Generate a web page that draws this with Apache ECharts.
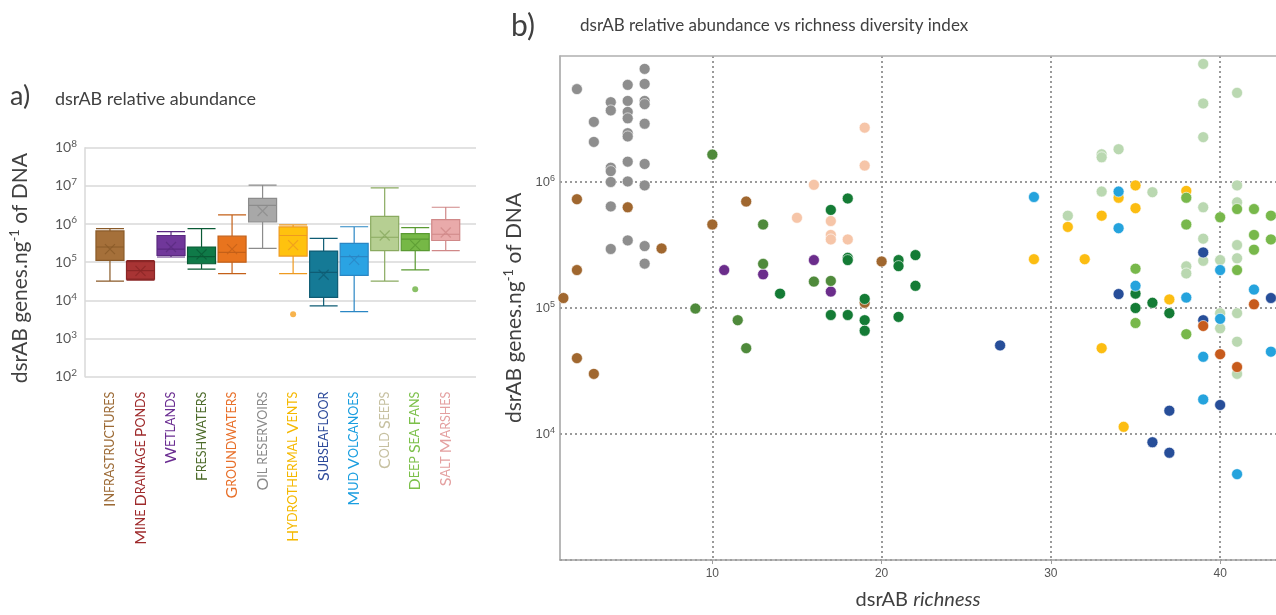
<!DOCTYPE html>
<html><head><meta charset="utf-8">
<script src="https://cdn.jsdelivr.net/npm/echarts@6/dist/echarts.min.js"></script>
<style>html,body{margin:0;padding:0;background:#fff}#c{width:1276px;height:615px}</style>
</head><body><div id="c"></div><script>
// ---------- Panel a: box plot data ----------
const categories = ['Infrastructures','Mine Drainage Ponds','Wetlands','Freshwaters','Groundwaters','Oil reservoirs','Hydrothermal Vents','Subseafloor','Mud Volcanoes','Cold Seeps','Deep Sea Fans','Salt Marshes'];
const boxMin    = [3.2e4, 3.4e4, 1.37e5, 6.6e4, 5.0e4, 2.3e5, 5.0e4, 7.2e3, 5.1e3, 3.2e4, 6.3e4, 2.0e5];
const boxQ1     = [1.12e5, 3.6e4, 1.5e5, 9.1e4, 1.0e5, 1.13e6, 1.45e5, 1.2e4, 4.5e4, 2.0e5, 2.0e5, 3.7e5];
const boxMedian = [2.5e5, 6.0e4, 2.2e5, 1.4e5, 1.8e5, 3.1e6, 5.0e5, 5.4e4, 1.4e5, 4.5e5, 4.0e5, 5.4e5];
const boxQ3     = [6.6e5, 1.03e5, 5.0e5, 2.5e5, 4.8e5, 4.7e6, 8.4e5, 1.96e5, 3.1e5, 1.58e6, 5.6e5, 1.3e6];
const boxMax    = [7.6e5, 1.1e5, 6.3e5, 7.6e5, 1.74e6, 1.05e7, 9.5e5, 4.2e5, 8.5e5, 8.9e6, 8.1e5, 2.75e6];
const boxMean   = [2.2e5, 5.9e4, 2.5e5, 1.6e5, 2.2e5, 2.2e6, 2.8e5, 4.7e4, 1.15e5, 5.0e5, 2.8e5, 6.0e5];
const boxOutliers = [[6, 4.3e3], [10, 1.95e4]];
const labelColors = ['#9c6a35','#9e2a2b','#6a2c91','#4d6b2a','#e8702a','#8a8a8a','#f5b800','#2e4b9b','#1a9ee0','#c6c0a0','#7cc04a','#e4a0a0'];
const boxFill     = ['#a5703a','#a83434','#70379a','#0f7a48','#e8741e','#a8a8a8','#ffc20e','#157a96','#2aa3e3','#b6cf92','#76b846','#e9aaaa'];
const boxBorder   = ['#8a5a28','#8a2626','#5a2a80','#0a5a35','#c46018','#8c8c8c','#ee9a20','#0f5c74','#2a86c4','#8aaa60','#5a9a32','#d08888'];
const outlierColors = ['#f5a020','#6cb040'];

// ---------- Panel b: scatter data [richness, abundance] ----------
const oilReservoirsPts = [[2,5.46e6],[3,3.0e6],[3,2.08e6],[4,4.3e6],[4,3.7e6],[4,1.3e6],[4,1.22e6],[4,1.0e6],[4,6.4e5],[4,2.94e5],[5,5.9e6],[5,4.4e6],[5,3.6e6],[5,3.2e6],[5,2.44e6],[5,2.3e6],[5,1.45e6],[5,1.01e6],[5,3.44e5],[6,7.9e6],[6,6.0e6],[6,4.4e6],[6,4.15e6],[6,2.9e6],[6,1.39e6],[6,9.4e5],[6,3.1e5],[6,2.25e5]];
const infrastructuresPts = [[1.2,1.2e5],[2,7.3e5],[2,2.0e5],[2,4.0e4],[3,3.0e4],[5,6.3e5],[7,2.97e5],[10,4.6e5],[12,7.0e5],[19,1.1e5],[20,2.34e5]];
const wetlandsPts = [[10.7,2.0e5],[13,1.85e5],[16,2.4e5],[17,1.35e5]];
const freshwatersOlivePts = [[9,9.9e4],[10,1.65e6],[11.5,8.0e4],[12,4.8e4],[13,4.6e5],[13,2.24e5],[16,1.62e5],[17,1.64e5]];
const freshwatersDarkPts = [[14,1.3e5],[17,6.0e5],[17,8.8e4],[18,7.4e5],[18,2.5e5],[18,2.4e5],[18,8.8e4],[19,1.18e5],[19,8.0e4],[19,6.6e4],[21,2.4e5],[21,2.15e5],[21,8.5e4],[22,2.63e5],[22,1.5e5],[35,1.3e5],[35,1.0e5],[36,1.1e5],[37,9.1e4]];
const saltMarshesPts = [[15,5.2e5],[16,9.5e5],[17,4.9e5],[17,3.8e5],[17,3.5e5],[18,3.5e5],[19,2.7e6],[19,1.35e6]];
const mudVolcanoesPts = [[29,7.6e5],[34,8.4e5],[34,4.3e5],[35,1.5e5],[38,1.21e5],[39,4.1e4],[39,1.88e4],[40,2.0e5],[40,8.2e4],[41,4.8e3],[42,1.4e5],[43,4.5e4]];
const hydrothermalPts = [[29,2.44e5],[31,4.4e5],[32,2.44e5],[33,5.4e5],[33,4.8e4],[34,7.5e5],[34.3,1.14e4],[35,9.4e5],[35,6.2e5],[37,1.17e5],[38,8.5e5]];
const coldSeepsPts = [[31,5.4e5],[33,1.66e6],[33,1.57e6],[33,8.4e5],[34,1.82e6],[36,8.3e5],[38,2.14e5],[38,1.88e5],[39,8.65e6],[39,4.2e6],[39,2.27e6],[39,6.3e5],[39,3.55e5],[39,2.37e5],[40,2.4e5],[40,9.1e4],[40,6.9e4],[41,5.1e6],[41,9.4e5],[41,6.9e5],[41,3.16e5],[41,2.48e5],[41,9.1e4],[41,5.4e4],[41,3.0e4]];
const deepSeaFansPts = [[35,2.05e5],[35,7.6e4],[38,7.5e5],[38,4.6e5],[38,6.2e4],[40,5.25e5],[41,6.1e5],[41,2.0e5],[42,6.1e5],[42,3.8e5],[42,2.9e5],[43,5.4e5],[43,3.5e5]];
const subseafloorPts = [[27,5.05e4],[34,1.29e5],[36,8.6e3],[37,1.53e4],[37,7.1e3],[39,2.76e5],[39,8.0e4],[40,1.7e4],[43,1.2e5]];
const groundwatersPts = [[39,7.2e4],[40,4.3e4],[41,3.4e4],[42,1.07e5]];

const scatterGroups = [
  ['Oil reservoirs', oilReservoirsPts, '#8e8e8e'],
  ['Infrastructures', infrastructuresPts, '#a0672f'],
  ['Wetlands', wetlandsPts, '#6b2d8b'],
  ['Freshwaters (olive)', freshwatersOlivePts, '#4f8a3b'],
  ['Freshwaters (dark)', freshwatersDarkPts, '#147b35'],
  ['Salt Marshes', saltMarshesPts, '#f6c5a8'],
  ['Cold Seeps', coldSeepsPts, '#bad8b1'],
  ['Hydrothermal Vents', hydrothermalPts, '#fcbd12'],
  ['Mud Volcanoes', mudVolcanoesPts, '#25a3dd'],
  ['Deep Sea Fans', deepSeaFansPts, '#78b84b'],
  ['Subseafloor', subseafloorPts, '#274e99'],
  ['Groundwaters', groundwatersPts, '#c75b1c']
];
const scatterYLabelExps = [4, 5, 6];

const FONT = 'Lato, "Open Sans", sans-serif';
const TXT = '#404040';

function smallCaps(s) {
  let out = '', cur = '', curBig = null;
  for (const ch of s) {
    const isBig = ch !== ' ' && ch === ch.toUpperCase();
    const b = ch === ' ' ? (curBig === null ? false : curBig) : isBig;
    if (curBig !== null && b !== curBig) { out += '{' + (curBig ? 'B' : 's') + '|' + cur + '}'; cur = ''; }
    curBig = b; cur += ch.toUpperCase();
  }
  if (cur) out += '{' + (curBig ? 'B' : 's') + '|' + cur + '}';
  return out;
}
function supLabel(v) { return '{b|10}{s|' + Math.round(Math.log10(v)) + '}'; }
function supLabelB(v) {
  const e = Math.round(Math.log10(v));
  return scatterYLabelExps.indexOf(e) >= 0 ? '{b|10}{s|' + e + '}' : '';
}

const chart = echarts.init(document.getElementById('c'), null, {renderer: 'canvas'});

const boxData = categories.map((c, i) => ({
  value: [boxMin[i], boxQ1[i], boxMedian[i], boxQ3[i], boxMax[i]],
  itemStyle: {color: boxFill[i], borderColor: boxBorder[i], borderWidth: 1.2}
}));
const meanData = categories.map((c, i) => ({
  value: [i, boxMean[i]],
  itemStyle: {color: 'rgba(0,0,0,0)', borderColor: boxBorder[i], borderWidth: 1.2}
}));
const outlierData = boxOutliers.map((p, i) => ({value: p, itemStyle: {color: outlierColors[i]}}));

const option = {
  animation: false,
  backgroundColor: '#fff',
  textStyle: {fontFamily: FONT},
  graphic: [
    {type: 'text', left: 10, top: 83, style: {text: 'a)', font: '27px ' + FONT, fill: TXT}},
    {type: 'text', left: 55, top: 90, style: {text: 'dsrAB relative abundance', font: '18px ' + FONT, fill: TXT}},
    {type: 'text', left: 511, top: 11, style: {text: 'b)', font: '30px ' + FONT, fill: TXT}},
    {type: 'text', left: 580, top: 17, style: {text: 'dsrAB relative abundance vs richness diversity index', font: '17px ' + FONT, fill: TXT}}
  ],
  grid: [
    {left: 85, width: 391, top: 147.7, height: 229, containLabel: false},
    {left: 94.7, width: 366.3, top: 147.7, height: 229, containLabel: false},
    {left: 560, right: 0, top: 56, height: 508, containLabel: false}
  ],
  xAxis: [
    {gridIndex: 0, type: 'value', min: 0, max: 1, show: false},
    {gridIndex: 1, type: 'category', data: categories, boundaryGap: true,
      axisLine: {show: false}, axisTick: {show: false}, splitLine: {show: false},
      axisLabel: {interval: 0, rotate: 90, margin: 15, fontFamily: FONT,
        color: (v, i) => labelColors[categories.indexOf(v)],
        formatter: v => smallCaps(v),
        rich: {B: {fontSize: 16, fontFamily: FONT}, s: {fontSize: 12.5, fontFamily: FONT}}}},
    {gridIndex: 2, type: 'value', min: 1, max: 43.3, minInterval: 10, maxInterval: 10,
      axisLine: {show: true, lineStyle: {color: '#a0a0a0', width: 1.5}},
      axisTick: {show: true, length: 4, lineStyle: {color: '#a0a0a0'}},
      axisLabel: {showMinLabel: false, showMaxLabel: false, color: '#555', fontSize: 12, fontFamily: '"Liberation Sans", Arial, sans-serif', margin: 8},
      splitLine: {show: true, showMinLine: false, showMaxLine: false, lineStyle: {color: '#9a9a9a', type: [2, 3], width: 2}},
      name: '{t|dsrAB }{i|richness}', nameLocation: 'middle', nameGap: 30,
      nameTextStyle: {rich: {t: {fontSize: 20, fontFamily: FONT, color: TXT}, i: {fontSize: 20, fontFamily: FONT, color: TXT, fontStyle: 'italic'}}}},
    {gridIndex: 2, type: 'value', position: 'top', min: 1, max: 43.3,
      axisLine: {show: true, lineStyle: {color: '#b0b0b0', width: 1.5}},
      axisTick: {show: false}, axisLabel: {show: false}, splitLine: {show: false}}
  ],
  yAxis: [
    {gridIndex: 0, type: 'log', logBase: 10, min: 100, max: 1e8,
      axisLine: {show: true, lineStyle: {color: '#d9d9d9', width: 1.5}},
      axisTick: {show: false},
      splitLine: {show: true, lineStyle: {color: '#d9d9d9', width: 1.5}},
      axisLabel: {formatter: supLabel, margin: 8, color: '#595959',
        rich: {b: {fontSize: 14, fontFamily: FONT, color: '#595959', lineHeight: 18},
               s: {fontSize: 10, fontFamily: FONT, color: '#595959', lineHeight: 10, verticalAlign: 'top'}}},
      name: '{t|dsrAB genes.ng}{s|-1}{t| of DNA}', nameLocation: 'middle', nameGap: 53, nameRotate: 90,
      nameTextStyle: {padding: [0, 12, 0, 0], rich: {t: {fontSize: 21, fontFamily: FONT, color: TXT, lineHeight: 24},
                             s: {fontSize: 13, fontFamily: FONT, color: TXT, lineHeight: 12, verticalAlign: 'top'}}}},
    {gridIndex: 1, type: 'log', logBase: 10, min: 100, max: 1e8, show: false, splitLine: {show: false}},
    {gridIndex: 2, type: 'log', logBase: 10, min: 1000, max: 1e7,
      axisLine: {show: true, lineStyle: {color: '#a0a0a0', width: 1.5}},
      axisTick: {show: false},
      splitLine: {show: true, showMinLine: false, showMaxLine: false, lineStyle: {color: '#9a9a9a', type: [2, 3], width: 2}},
      axisLabel: {showMinLabel: false, showMaxLabel: false, formatter: supLabelB, margin: 5,
        rich: {b: {fontSize: 13, fontFamily: '"Liberation Sans", Arial, sans-serif', color: '#555', lineHeight: 16},
               s: {fontSize: 9, fontFamily: '"Liberation Sans", Arial, sans-serif', color: '#555', lineHeight: 9, verticalAlign: 'top'}}},
      name: '{t|dsrAB genes.ng}{s|-1}{t| of DNA}', nameLocation: 'middle', nameGap: 28, nameRotate: 90,
      nameTextStyle: {rich: {t: {fontSize: 21, fontFamily: FONT, color: TXT, lineHeight: 24},
                             s: {fontSize: 13, fontFamily: FONT, color: TXT, lineHeight: 12, verticalAlign: 'top'}}}}
  ],
  series: [
    {type: 'boxplot', xAxisIndex: 1, yAxisIndex: 1, data: boxData, boxWidth: [28, 28],
      emphasis: {disabled: true}, silent: true},
    {type: 'scatter', xAxisIndex: 1, yAxisIndex: 1, data: meanData, symbol: 'path://M0,0L10,10M10,0L0,10', symbolSize: 10, silent: true},
    {type: 'scatter', xAxisIndex: 1, yAxisIndex: 1, data: outlierData, symbolSize: 6, silent: true}
  ].concat(scatterGroups.map(g => ({
    type: 'scatter', name: g[0], xAxisIndex: 2, yAxisIndex: 2, data: g[1], symbolSize: 11,
    itemStyle: {color: g[2], borderColor: '#fff', borderWidth: 0.6, opacity: 1}, silent: true
  })))
};
chart.setOption(option);
</script></body></html>
